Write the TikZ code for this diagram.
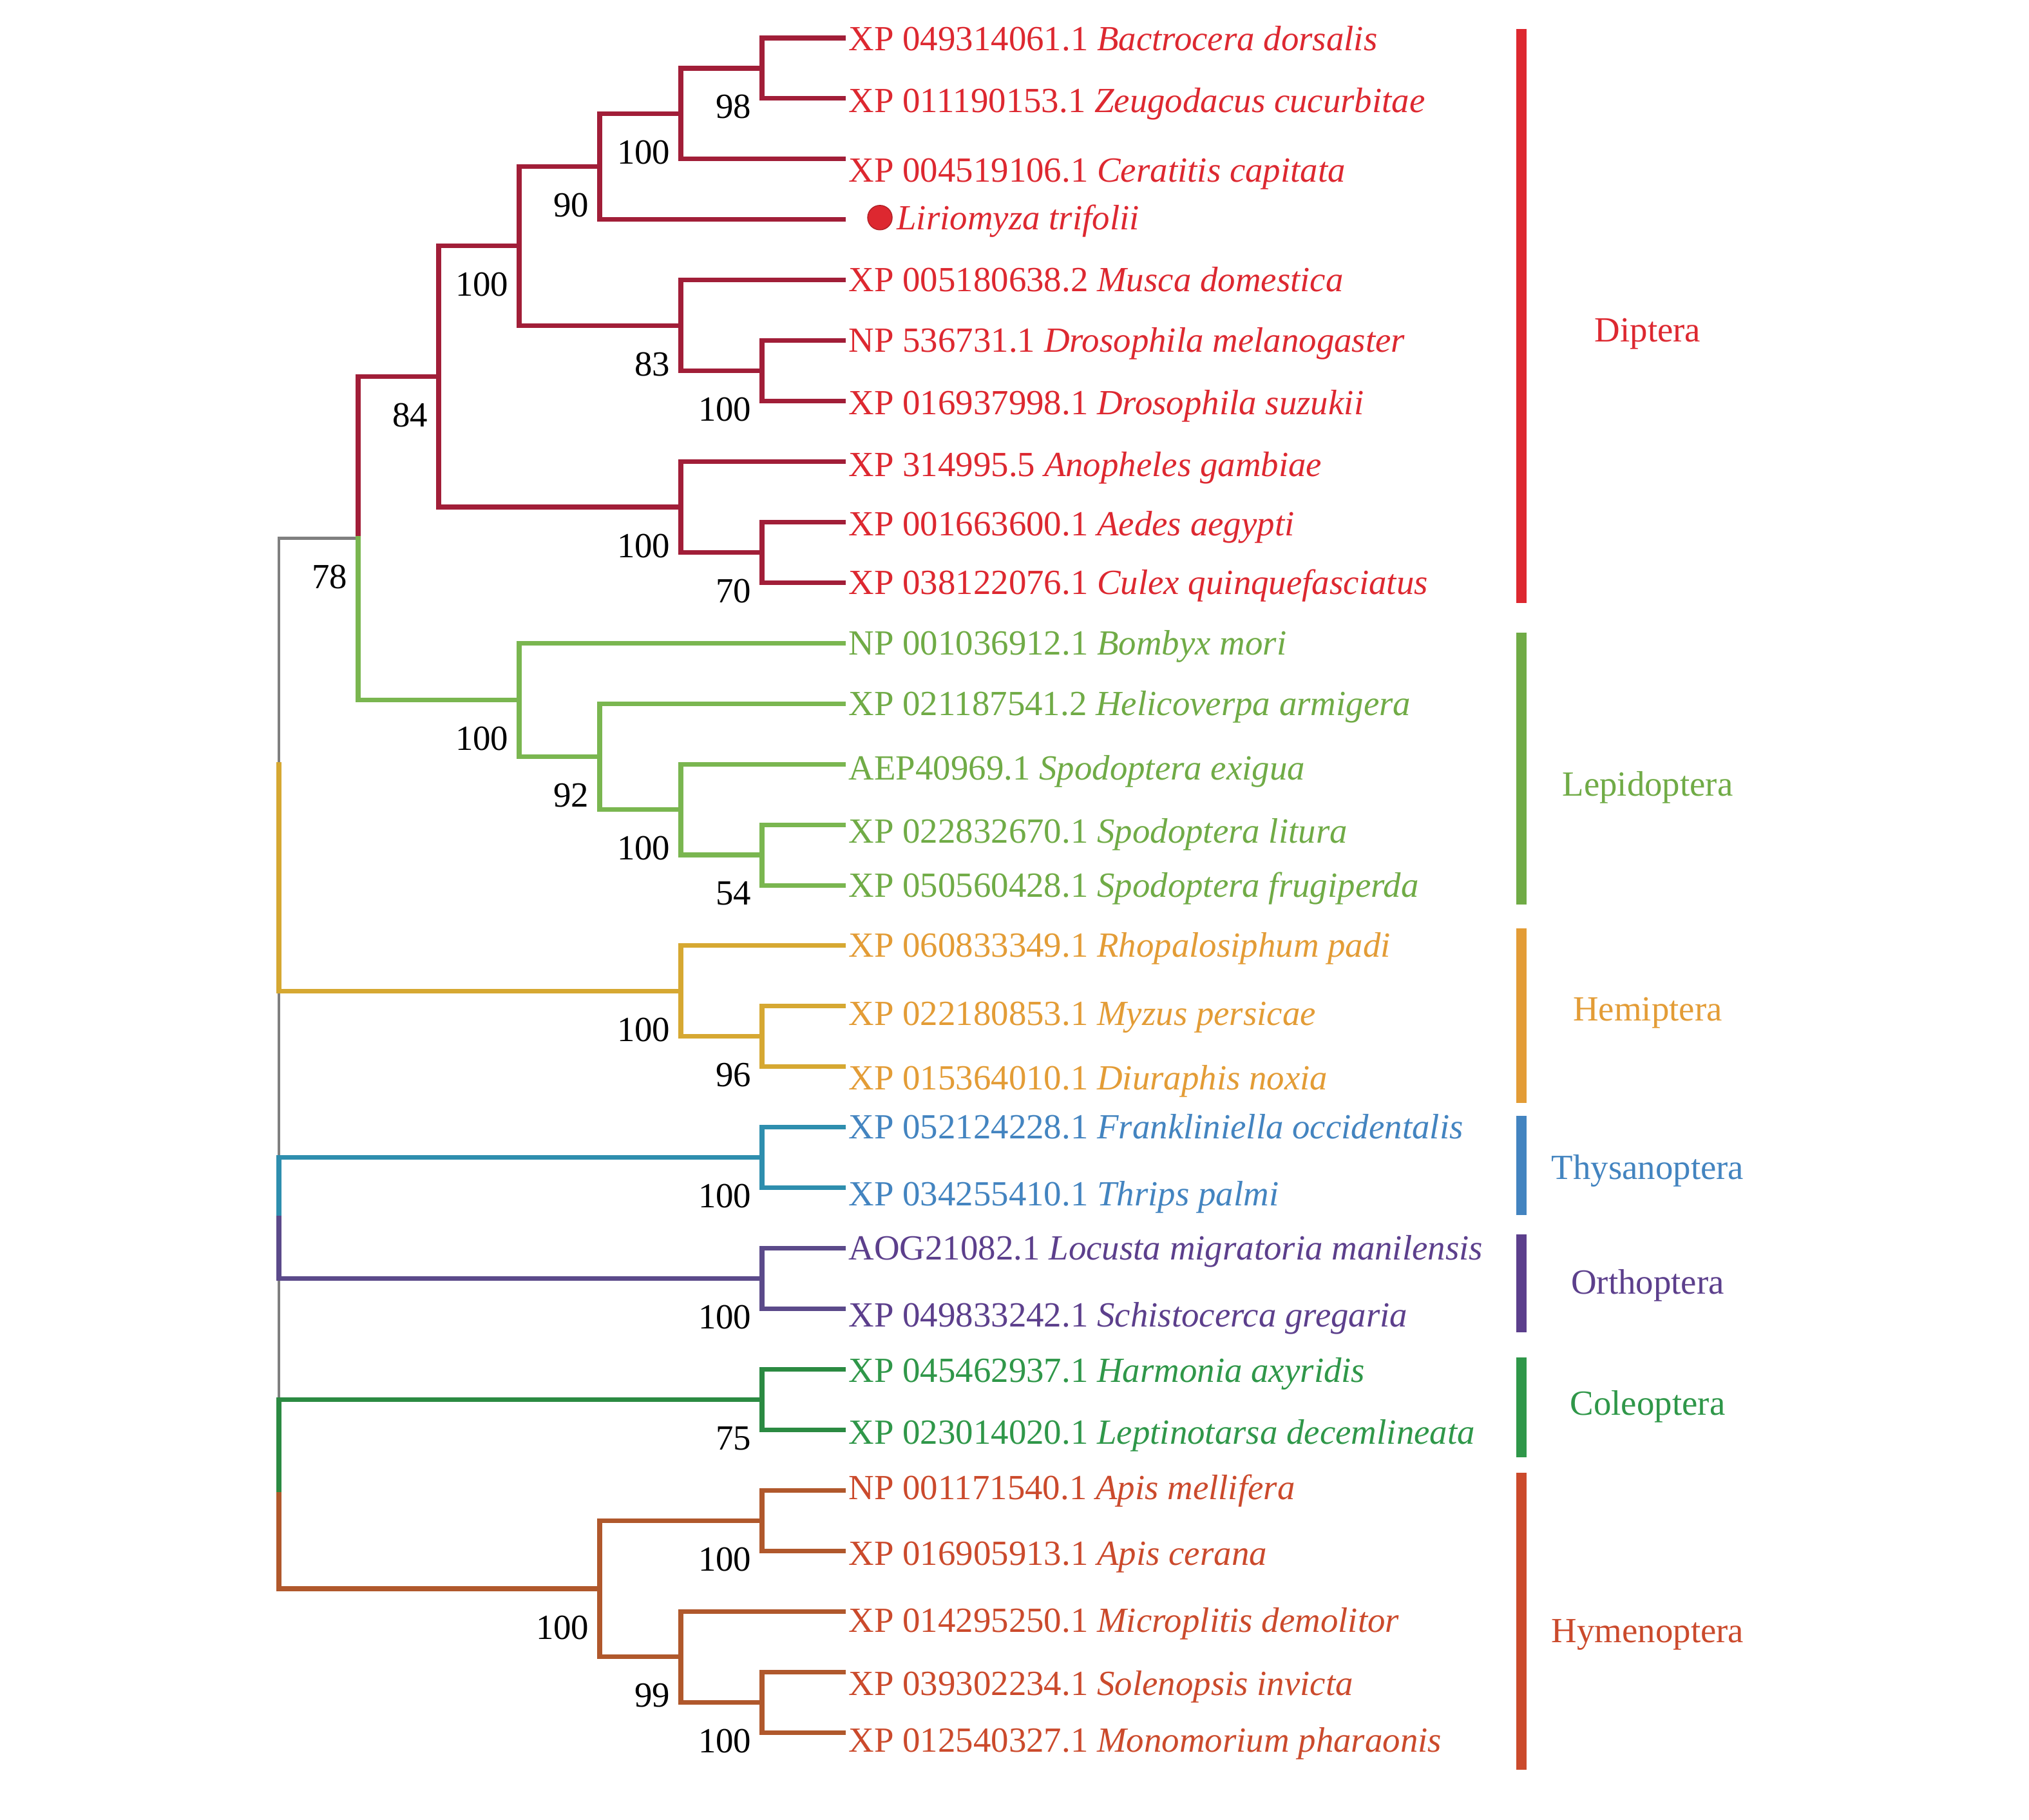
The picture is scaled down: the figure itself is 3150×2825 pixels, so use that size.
\documentclass[tikz,border=0pt]{standalone}
\usepackage{fontspec}
\setmainfont{Liberation Serif}

\definecolor{dipt}{HTML}{DD2830}
\definecolor{diptbr}{HTML}{A11E38}
\definecolor{lepi}{HTML}{70AB46}
\definecolor{lepibr}{HTML}{7AB650}
\definecolor{hemi}{HTML}{E39C36}
\definecolor{hemibr}{HTML}{D6A832}
\definecolor{thys}{HTML}{4384C0}
\definecolor{thysbr}{HTML}{2E8EAE}
\definecolor{orth}{HTML}{5C3F8C}
\definecolor{orthbr}{HTML}{5B4A8A}
\definecolor{cole}{HTML}{2F9749}
\definecolor{colebr}{HTML}{2B8A42}
\definecolor{hyme}{HTML}{CB4A2C}
\definecolor{hymebr}{HTML}{B0582C}
\definecolor{rootgray}{HTML}{808080}

\begin{document}
\begin{tikzpicture}[x=0.01cm, y=-0.01cm]
	\tikzstyle{branch} = [line width=2pt, line cap=rect]
	\tikzstyle{spine}  = [line width=1.2pt, line cap=rect, rootgray]
	\tikzstyle{leaf}   = [anchor=base west, inner sep=0pt, font=\fontsize{15.6}{18}\selectfont]
	\tikzstyle{boot}   = [anchor=east, inner sep=0pt, xshift=-0.16cm, yshift=-0.6cm, font=\fontsize{15.6}{18}\selectfont]
	\tikzstyle{bar}    = [line width=4.5pt]
	\tikzstyle{clade}  = [anchor=base, inner sep=0pt, font=\fontsize{15.6}{18}\selectfont]

	\useasboundingbox (0,0) rectangle (3150,2825);
	\fill[white] (0,0) rectangle (3150,2825);

%	leaves
	\coordinate (l3) at (1309, {59+93.93*3});
	\foreach \row/\dy/\acc/\spec/\clr in {0/2/XP 049314061.1/Bactrocera dorsalis/dipt, 1/4/XP 011190153.1/Zeugodacus cucurbitae/dipt,
			2/18/XP 004519106.1/Ceratitis capitata/dipt, 4/0/XP 005180638.2/Musca domestica/dipt,
			5/0/NP 536731.1/Drosophila melanogaster/dipt, 6/3/XP 016937998.1/Drosophila suzukii/dipt,
			7/5/XP 314995.5/Anopheles gambiae/dipt, 8/3/XP 001663600.1/Aedes aegypti/dipt,
			9/0/XP 038122076.1/Culex quinquefasciatus/dipt, 10/0/NP 001036912.1/Bombyx mori/lepi,
			11/0/XP 021187541.2/Helicoverpa armigera/lepi, 12/6/AEP40969.1/Spodoptera exigua/lepi,
			13/10/XP 022832670.1/Spodoptera litura/lepi, 14/0/XP 050560428.1/Spodoptera frugiperda/lepi,
			15/0/XP 060833349.1/Rhopalosiphum padi/hemi, 16/12/XP 022180853.1/Myzus persicae/hemi,
			17/18/XP 015364010.1/Diuraphis noxia/hemi, 18/0/XP 052124228.1/Frankliniella occidentalis/thys,
			19/10/XP 034255410.1/Thrips palmi/thys, 20/0/AOG21082.1/Locusta migratoria manilensis/orth,
			21/10/XP 049833242.1/Schistocerca gregaria/orth, 22/2/XP 045462937.1/Harmonia axyridis/cole,
			23/4/XP 023014020.1/Leptinotarsa decemlineata/cole, 24/-4/NP 001171540.1/Apis mellifera/hyme,
			25/4/XP 016905913.1/Apis cerana/hyme, 26/14/XP 014295250.1/Microplitis demolitor/hyme,
			27/18/XP 039302234.1/Solenopsis invicta/hyme, 28/12/XP 012540327.1/Monomorium pharaonis/hyme}
		{
		\coordinate (l\row) at (1309, {59+93.93*\row});
		\node[leaf, text=\clr, yshift=-\dy*0.01cm] (t\row) at ([xshift=0.08cm, yshift=-0.18cm]l\row) {\acc\ \textit{\spec}};
		}

	\node[circle, fill=dipt, draw=dipt!80!black, line width=0.4pt, minimum size=0.38cm, inner sep=0pt] (dot) at ([xshift=0.57cm, yshift=0.03cm]l3) {};
	\node[leaf, text=dipt] (t3) at ([xshift=0.06cm, yshift=-0.19cm]dot.east) {\textit{Liriomyza trifolii}};

%	internal nodes
	\foreach \name/\x/\y in {d98/1183/106.0, d100a/1057/176.4, d90/931/258.6, d100c/1183/575.6,
			d83/1057/505.2, d100b/806/381.9, d70/1183/857.4, d100d/1057/787.0, d84/681/584.4,
			p54/1183/1327.0, p100f/1057/1256.6, p92/931/1174.4, p100e/806/1086.4, n78/556/835.4,
			h96/1183/1608.9, h100/1057/1538.4, t100/1183/1796.7, o100/1183/1984.6, c75/1183/2172.5,
			y100a/1183/2360.3, y100c/1183/2642.1, y99/1057/2571.7, y100b/931/2466.0}
		\coordinate (\name) at (\x, \y);

%	root spine
	\coordinate (rt) at (433, 835.4);
	\coordinate (rb) at (433, 2466.0);
	\coordinate (sh) at (433, 1186.9);
	\coordinate (st) at (433, 1890.7);
	\coordinate (sc) at (433, 2319.3);
	\draw[spine] (rt) -- (rb);
	\draw[spine] (rt) -- (n78);
	\draw[branch, hemibr] (sh) -- (rt |- h100) -- (h100);
	\draw[branch, thysbr] (st) -- (rt |- t100) -- (t100);
	\draw[branch, orthbr] (st) -- (rt |- o100) -- (o100);
	\draw[branch, colebr] (sc) -- (rt |- c75) -- (c75);
	\draw[branch, hymebr] (sc) -- (rb) -- (y100b);

%	branches
	\foreach \from/\to/\clr in {n78/d84/diptbr, d84/d100b/diptbr, d84/d100d/diptbr, d100b/d90/diptbr,
			d100b/d83/diptbr, d90/d100a/diptbr, d90/l3/diptbr, d100a/d98/diptbr, d100a/l2/diptbr,
			d98/l0/diptbr, d98/l1/diptbr, d83/l4/diptbr, d83/d100c/diptbr, d100c/l5/diptbr,
			d100c/l6/diptbr, d100d/l7/diptbr, d100d/d70/diptbr, d70/l8/diptbr, d70/l9/diptbr,
			n78/p100e/lepibr, p100e/l10/lepibr, p100e/p92/lepibr, p92/l11/lepibr, p92/p100f/lepibr,
			p100f/l12/lepibr, p100f/p54/lepibr, p54/l13/lepibr, p54/l14/lepibr,
			h100/l15/hemibr, h100/h96/hemibr, h96/l16/hemibr, h96/l17/hemibr,
			t100/l18/thysbr, t100/l19/thysbr, o100/l20/orthbr, o100/l21/orthbr,
			c75/l22/colebr, c75/l23/colebr, y100b/y100a/hymebr, y100b/y99/hymebr,
			y100a/l24/hymebr, y100a/l25/hymebr, y99/l26/hymebr, y99/y100c/hymebr,
			y100c/l27/hymebr, y100c/l28/hymebr}
		\draw[branch, \clr] (\from) |- (\to);

%	bootstrap values
	\foreach \name/\val in {d98/98, d100a/100, d90/90, d100b/100, d83/83, d100c/100, d84/84,
			d100d/100, d70/70, n78/78, p100e/100, p92/92, p100f/100, p54/54, h100/100, h96/96,
			t100/100, o100/100, c75/75, y100a/100, y100b/100, y99/99, y100c/100}
		\node[boot] (b\name) at (\name) {\val};

%	orders
	\foreach \name/\lab/\top/\bot/\ly/\clr in {diptera/Diptera/45/936/513/dipt,
			lepidoptera/Lepidoptera/982/1404/1218/lepi, hemiptera/Hemiptera/1441/1712/1566/hemi,
			thysanoptera/Thysanoptera/1732/1886/1812/thys, orthoptera/Orthoptera/1916/2068/1990/orth,
			coleoptera/Coleoptera/2107/2262/2178/cole, hymenoptera/Hymenoptera/2286/2747/2531/hyme}
		{
		\coordinate (\name top) at (2362, \top);
		\coordinate (\name bot) at (2362, \bot);
		\draw[bar, \clr] (\name top) -- (\name bot);
		\node[clade, text=\clr] (\name) at (2558, {\ly+18}) {\lab};
		}

\end{tikzpicture}
\end{document}
